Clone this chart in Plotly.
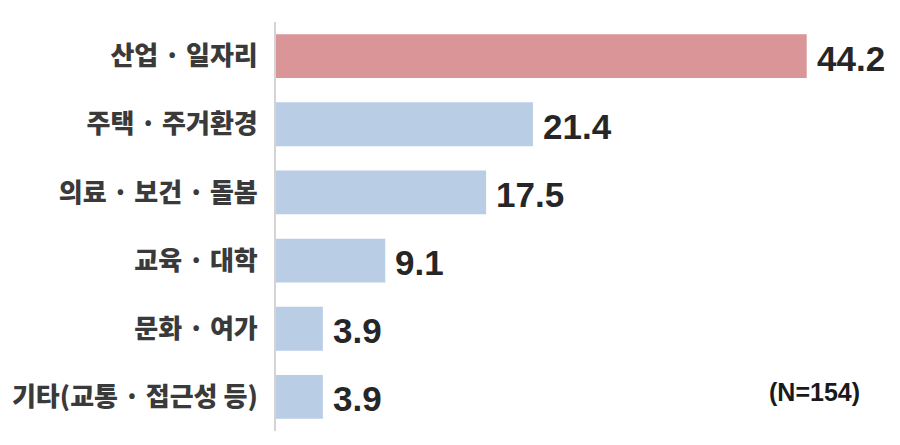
import plotly.graph_objects as go

categories = ["산업 · 일자리", "주택 · 주거환경", "의료 · 보건 · 돌봄", "교육 · 대학", "문화 · 여가", "기타(교통 · 접근성 등)"]
values = [44.2, 21.4, 17.5, 9.1, 3.9, 3.9]
value_labels = ["44.2", "21.4", "17.5", "9.1", "3.9", "3.9"]
bar_colors = ["#d99597", "#b9cde5", "#b9cde5", "#b9cde5", "#b9cde5", "#b9cde5"]
note_text = "(N=154)"

# the page body adds an 8px offset
OFF = 8
W, H = 900 - OFF, 445 - OFF
ML, MR, MT, MB = 276 - OFF, 10, 22 - OFF, 22 - OFF
pw, ph = W - ML - MR, H - MT - MB

fig = go.Figure()
fig.add_trace(go.Bar(
    x=values, y=categories, orientation="h",
    marker=dict(color=bar_colors, line=dict(width=0)),
    hoverinfo="skip",
))

for v, lab, cat in zip(values, value_labels, categories):
    fig.add_annotation(
        x=v, y=cat, xref="x", yref="y", text="<b>" + lab + "</b>",
        showarrow=False, xanchor="left", yanchor="middle", xshift=8, yshift=-2,
        font=dict(family="Liberation Sans, Arial, sans-serif", size=35, color="#262626"),
    )

fig.add_annotation(
    x=(862 - OFF - ML) / pw, y=1 - (392 - OFF - MT) / ph, xref="paper", yref="paper",
    text="<b>" + note_text + "</b>",
    showarrow=False, xanchor="right", yanchor="middle",
    font=dict(family="Liberation Sans, Arial, sans-serif", size=25, color="#1a1a1a"),
)

fig.update_layout(
    width=W, height=H,
    margin=dict(l=ML, r=MR, t=MT, b=MB, autoexpand=False),
    paper_bgcolor="white", plot_bgcolor="white",
    bargap=0.356,
    showlegend=False,
    xaxis=dict(range=[0, pw / 12.007], visible=False, fixedrange=True, automargin=False),
    yaxis=dict(
        autorange="reversed", showgrid=False, zeroline=False, automargin=False,
        showline=True, linecolor="#d4d4d4", linewidth=2,
        ticks="", ticklabelstandoff=11,
        tickfont=dict(family="Noto Sans CJK KR", size=26, color="#3a3a3a", weight=900),
    ),
    font=dict(family="Noto Sans CJK KR"),
)

fig.write_html("out.html")
